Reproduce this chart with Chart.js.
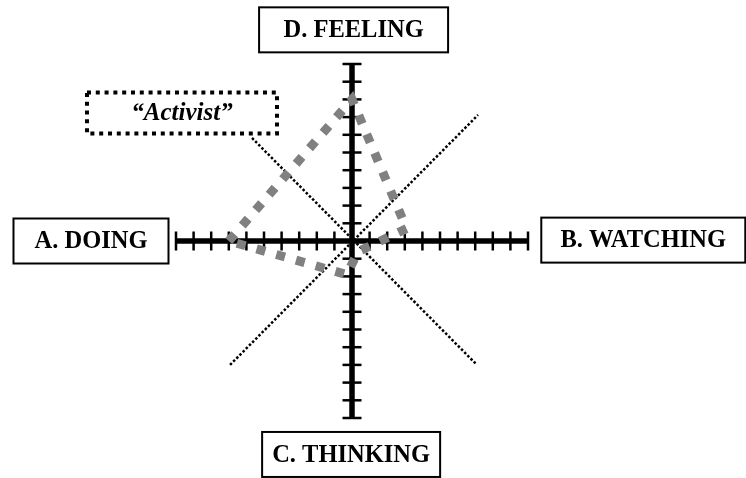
<!DOCTYPE html>
<html>
<head>
<meta charset="utf-8">
<script src="https://cdn.jsdelivr.net/npm/chart.js@4"></script>
<style>
  html, body { margin: 0; padding: 0; background: #fff; }
  #wrap { width: 746px; height: 478px; }
</style>
</head>
<body>
<div id="wrap"><canvas id="myChart" width="746" height="478"></canvas></div>
<script>
// ejes: marcas de -10 a 10
const tickValues = [-10, -9, -8, -7, -6, -5, -4, -3, -2, -1, 0, 1, 2, 3, 4, 5, 6, 7, 8, 9, 10];

// perfil "Activist" (A, D, B, ..., C, A)
const profileX = [-7, 0, 3.1, 0.35, -0.3, -7];
const profileY = [0, 8, 0.7, -0.6, -1.9, 0];

// diagonales punteadas
const diag1X = [-5.68, 7.1];
const diag1Y = [5.82, -7.0];
const diag2X = [-6.93, 7.16];
const diag2Y = [-7.0, 7.12];

const axisLabels = ['A. DOING', 'B. WATCHING', 'C. THINKING', 'D. FEELING'];
const styleLabel = '\u201CActivist\u201D';

function toPoints(xs, ys) {
    return xs.map((x, i) => ({ x: x, y: ys[i] }));
}

const hTicks = tickValues.map(v => ({ x: v, y: 0 }));
const vTicks = tickValues.map(v => ({ x: 0, y: v }));
const hAxis = [{ x: tickValues[0], y: 0 }, { x: tickValues[tickValues.length - 1], y: 0 }];
const vAxis = [{ x: 0, y: tickValues[0] }, { x: 0, y: tickValues[tickValues.length - 1] }];

// cajas de texto, ancladas en coordenadas de datos
const boxes = [
    { text: axisLabels[0], x: -14.83, y: 0.0, w: 155, h: 45 },
    { text: axisLabels[1], x: 16.55, y: 0.05, w: 204, h: 45 },
    { text: axisLabels[2], x: -0.05, y: -12.06, w: 178, h: 45 },
    { text: axisLabels[3], x: 0.09, y: 11.93, w: 189, h: 45 }
];

const labelsPlugin = {
    id: 'labelsPlugin',
    afterDraw(chart) {
        const c = chart.ctx;
        const sx = chart.scales.x, sy = chart.scales.y;
        c.save();
        c.textAlign = 'center';
        c.textBaseline = 'middle';
        c.fillStyle = '#000';
        boxes.forEach(b => {
            const px = sx.getPixelForValue(b.x), py = sy.getPixelForValue(b.y);
            c.fillStyle = '#fff';
            c.fillRect(px - b.w / 2, py - b.h / 2, b.w, b.h);
            c.strokeStyle = '#000';
            c.lineWidth = 2;
            c.setLineDash([]);
            c.strokeRect(px - b.w / 2, py - b.h / 2, b.w, b.h);
            c.fillStyle = '#000';
            c.font = 'bold 24.5px "Liberation Serif", "Times New Roman", serif';
            c.fillText(b.text, px, py + 1);
        });

        // caja punteada "Activist"
        const ax = sx.getPixelForValue(-9.66), ay = sy.getPixelForValue(7.23);
        const aw = 190, ah = 41;
        c.strokeStyle = '#000';
        c.lineWidth = 4;
        c.setLineDash([4, 4.8]);
        c.strokeRect(ax - aw / 2, ay - ah / 2, aw, ah);
        c.setLineDash([]);
        c.font = 'italic bold 25px "Liberation Serif", "Times New Roman", serif';
        c.fillText(styleLabel, ax, ay + 1);
        c.restore();
    }
};

const ctx = document.getElementById('myChart').getContext('2d');
const myChart = new Chart(ctx, {
    type: 'scatter',
    data: {
        datasets: [
            {
                label: 'profile',
                data: toPoints(profileX, profileY),
                showLine: true,
                borderColor: '#808080',
                borderWidth: 9,
                borderDash: [9, 11.5],
                borderCapStyle: 'butt',
                pointRadius: 0,
                tension: 0,
                order: 1
            },
            {
                label: 'diag1',
                data: toPoints(diag1X, diag1Y),
                showLine: true,
                borderColor: '#000',
                borderWidth: 2.5,
                borderDash: [2.5, 2],
                pointRadius: 0,
                order: 2
            },
            {
                label: 'diag2',
                data: toPoints(diag2X, diag2Y),
                showLine: true,
                borderColor: '#000',
                borderWidth: 2.5,
                borderDash: [2.5, 2],
                pointRadius: 0,
                order: 2
            },
            {
                label: 'hTicks',
                data: hTicks,
                pointStyle: 'line',
                rotation: 90,
                radius: 9.5,
                borderWidth: 2.5,
                borderColor: '#000',
                order: 3
            },
            {
                label: 'vTicks',
                data: vTicks,
                pointStyle: 'line',
                rotation: 0,
                radius: 9.5,
                borderWidth: 2.5,
                borderColor: '#000',
                order: 3
            },
            {
                label: 'hAxis',
                data: hAxis,
                showLine: true,
                borderColor: '#000',
                borderWidth: 5.5,
                pointRadius: 0,
                order: 4
            },
            {
                label: 'vAxis',
                data: vAxis,
                showLine: true,
                borderColor: '#000',
                borderWidth: 5.5,
                pointRadius: 0,
                order: 4
            }
        ]
    },
    options: {
        responsive: false,
        animation: false,
        devicePixelRatio: 1,
        layout: { padding: 0, autoPadding: false },
        events: [],
        scales: {
            x: { type: 'linear', min: -20, max: 22.386, display: false },
            y: { type: 'linear', min: -13.39, max: 13.616, display: false }
        },
        plugins: {
            legend: { display: false },
            tooltip: { enabled: false }
        }
    },
    plugins: [labelsPlugin]
});
</script>
</body>
</html>
